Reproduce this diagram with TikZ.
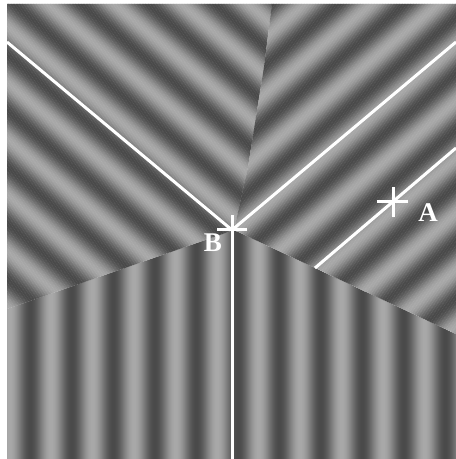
\documentclass[tikz,border=0pt]{standalone}
\usepackage{fontspec}
\setmainfont{Liberation Serif}
\begin{document}
\begin{tikzpicture}[x=1pt,y=1pt,
  cut/.style={white,line width=3pt},
  hair/.style={white,line width=3pt},
  tag/.style={text=white,inner sep=0pt,font=\fontsize{27}{27}\selectfont\bfseries}]
 \useasboundingbox[fill=white] (0,0) rectangle (456,459);
 \coordinate (J) at (234,229);
 \coordinate (B) at (232,229);
 \coordinate (A) at (393,257);
 \coordinate (nw) at (7,417);
 \coordinate (ne) at (456,417);
 \coordinate (s) at (232,0);
 \coordinate (a0) at (315,191);
 \coordinate (a1) at (456,311);
 % vertical bars below
 \begin{scope}
  \clip (7,0) -- (7,150) -- (J) -- (456,125) -- (456,0) -- cycle;
  \foreach \t in {7,...,456}{
   \pgfmathsetmacro\k{52.5+18.5*cos((\t-30)*8.675)}
   \fill[black!\k] (\t,0) rectangle (\t+1.3,240);
  }
 \end{scope}
 % upper left bars
 \begin{scope}
  \clip (7,150) -- (7,455) -- (272,455) -- (264,392) -- (248,292) -- (J) -- cycle;
  \begin{scope}[shift={(7,404)},rotate=-40]
   \foreach \t in {-210,...,220}{
    \pgfmathsetmacro\k{52.5+18.5*cos(\t*8.372)}
    \fill[black!\k] (-400,\t) rectangle (400,\t+1.3);
   }
  \end{scope}
 \end{scope}
 % upper right bars
 \begin{scope}
  \clip (272,455) -- (456,455) -- (456,125) -- (J) -- (248,292) -- (264,392) -- cycle;
  \begin{scope}[shift={(272,455)},rotate=40]
   \foreach \t in {-390,...,20}{
    \pgfmathsetmacro\k{52.5+18.5*cos(\t*8.372)}
    \fill[black!\k] (-500,\t) rectangle (500,\t+1.3);
   }
  \end{scope}
 \end{scope}
 \draw[cut] (nw) -- (B) -- (ne);
 \draw[cut] (B) -- (s);
 \draw[cut] (a0) -- (a1);
 \draw[hair] ([xshift=-15pt]B) -- ([xshift=15pt]B);
 \draw[hair] (B) -- ([yshift=15pt]B);
 \draw[hair] ([xshift=-16pt]A) -- ([xshift=15pt]A);
 \draw[hair] ([yshift=-15pt]A) -- ([yshift=15pt]A);
 \node[tag] (labA) at (428,246) {A};
 \node[tag] (labB) at (213,216) {B};
\end{tikzpicture}
\end{document}
